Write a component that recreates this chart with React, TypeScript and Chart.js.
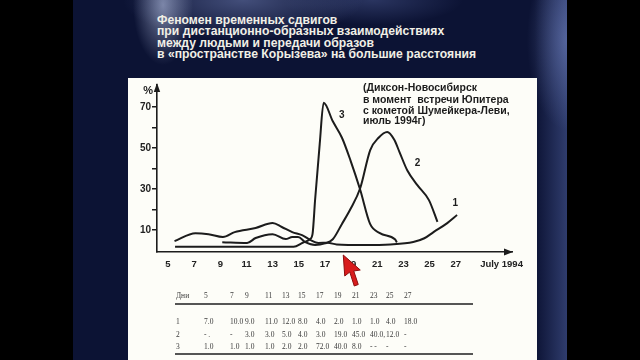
import React, { useEffect, useRef } from "react";
import { Chart, registerables } from "chart.js";

Chart.register(...registerables);

// ---------- texts ----------
const titleLines = [
  "Феномен временных сдвигов",
  "при дистанционно-образных взаимодействиях",
  "между людьми и передачи образов",
  "в «пространстве Корызева» на большие расстояния",
];
const noteLines = [
  "(Диксон-Новосибирск",
  "в момент  встречи Юпитера",
  "с кометой Шумейкера-Леви,",
  "июль 1994г)",
];
const yAxisUnit = "%";
const xAxisTitle = "July 1994";

// ---------- axes ----------
const xTickDays = [5, 7, 9, 11, 13, 15, 17, 19, 21, 23, 25, 27];
const xTitleDay = 30.5;
const yTickValues = [10, 20, 30, 40, 50, 60, 70];
const yLabelledTicks = [10, 30, 50, 70];

// ---------- curves ----------
const series1Days = [5.5, 7.1, 8.1, 9.2, 10.1, 11.7, 13.0, 13.7, 14.5, 15.25, 15.9, 16.5, 17.2, 17.9, 20.0, 22.0, 23.75, 24.6, 25.3, 26.35, 27.1];
const series1Values = [4.6, 8.5, 8.0, 6.6, 9.0, 11.0, 13.4, 11.5, 9.0, 7.5, 5.1, 3.7, 3.8, 3.0, 2.7, 3.0, 4.2, 6.0, 9.0, 13.4, 17.3];

const series2Days = [9.15, 11.05, 11.7, 13.0, 14.0, 14.5, 14.95, 15.5, 16.25, 17.0, 17.6, 18.3, 18.93, 19.7, 20.46, 21.1, 21.76, 22.3, 22.7, 23.3, 24.05, 24.95, 25.6];
const series2Values = [4.1, 3.7, 6.1, 8.0, 5.6, 6.6, 6.6, 4.1, 2.7, 3.5, 5.5, 13.0, 20.0, 30.5, 49.0, 55.0, 57.8, 54.0, 48.0, 39.0, 32.0, 24.6, 14.0];

const series3Days = [5.54, 14.6, 15.3, 15.85, 16.05, 16.25, 16.6, 16.9, 17.6, 18.3, 18.95, 19.7, 20.45, 21.2, 22.35, 22.5];
const series3Values = [1.8, 1.8, 3.8, 5.5, 8.0, 25.0, 52.0, 72.0, 63.0, 55.0, 44.0, 29.5, 13.0, 8.5, 5.5, 4.0];

const curveNames = ["1", "2", "3"];
const curveLabelDays = [26.96, 24.08, 18.29];
const curveLabelValues = [23.0, 42.5, 66.0];

// ---------- table ----------
const tableHeader = "Дни";
const tableDays = ["5", "7", "9", "11", "13", "15", "17", "19", "21", "23", "25", "27"];
const tableRowNames = ["1", "2", "3"];
const tableRow1 = ["7.0", "10.0", "9.0", "11.0", "12.0", "8.0", "4.0", "2.0", "1.0", "1.0", "4.0", "18.0"];
const tableRow2 = ["- .", "-", "3.0", "3.0", "5.0", "4.0", "3.0", "19.0", "45.0", "40.0,", "12.0", "-"];
const tableRow3 = ["1.0", "1.0", "1.0", "1.0", "2.0", "2.0", "72.0", "40.0", "8.0", "- -", "-", "-"];

// ---------- layout (not data) ----------
const tableColX = [204, 230, 245, 265, 282, 298, 316, 334, 352, 370, 386, 404];
const tableRowY = [322, 335, 347];
const cursorDay = 18.4;

const SANS = '"Liberation Sans", Arial, sans-serif';
const SERIF = '"Liberation Serif", "Times New Roman", serif';
const INK = "#1c1c1c";

const toPoints = (days: number[], values: number[]) =>
  days.map((d, i) => ({ x: d, y: values[i] }));

const extras = {
  id: "extras",
  afterDraw(chart: any) {
    const { ctx, chartArea: a, scales } = chart;
    const x = scales.x;
    const y = scales.y;
    ctx.save();
    ctx.fillStyle = INK;
    // y arrow
    ctx.beginPath();
    ctx.moveTo(a.left, a.top - 2);
    ctx.lineTo(a.left - 3.2, a.top + 7);
    ctx.lineTo(a.left + 3.2, a.top + 7);
    ctx.closePath();
    ctx.fill();
    // x arrow
    ctx.beginPath();
    ctx.moveTo(a.right + 1, a.bottom);
    ctx.lineTo(a.right - 8, a.bottom - 3.5);
    ctx.lineTo(a.right - 8, a.bottom + 3.5);
    ctx.closePath();
    ctx.fill();
    // unit
    ctx.font = `bold 11px ${SANS}`;
    ctx.textAlign = "right";
    ctx.textBaseline = "middle";
    ctx.fillText(yAxisUnit, a.left - 4, a.top + 6);
    // note
    ctx.font = `bold 10.5px ${SANS}`;
    ctx.textAlign = "left";
    ctx.textBaseline = "alphabetic";
    const nb = [6, 18, 29, 39];
    noteLines.forEach((t, i) => ctx.fillText(t, a.left + 206, a.top + nb[i]));
    // curve labels
    ctx.font = `bold 10px ${SANS}`;
    ctx.textAlign = "center";
    ctx.textBaseline = "middle";
    curveNames.forEach((n, i) =>
      ctx.fillText(n, x.getPixelForValue(curveLabelDays[i]), y.getPixelForValue(curveLabelValues[i]))
    );
    // red cursor
    const cx = x.getPixelForValue(cursorDay);
    const cy = a.bottom + 3;
    const poly = [[0, 0], [1.5, 21], [6.5, 17], [11, 31], [15, 29.5], [10.5, 16], [17, 15]];
    ctx.beginPath();
    poly.forEach(([px, py], i) => (i ? ctx.lineTo(cx + px, cy + py) : ctx.moveTo(cx + px, cy + py)));
    ctx.closePath();
    ctx.fillStyle = "#d81c1c";
    ctx.fill();
    ctx.strokeStyle = "#8c0d0d";
    ctx.lineWidth = 1;
    ctx.stroke();
    ctx.restore();
  },
};

export default function App() {
  const canvasRef = useRef<HTMLCanvasElement>(null);

  useEffect(() => {
    const canvas = canvasRef.current;
    if (!canvas) return;
    const ds = (d: number[], v: number[]) => ({
      data: toPoints(d, v),
      borderColor: INK,
      borderWidth: 2,
      pointRadius: 0,
      fill: false,
      cubicInterpolationMode: "monotone" as const,
    });
    const chart = new Chart(canvas, {
      type: "line",
      data: {
        datasets: [
          ds(series1Days, series1Values),
          ds(series2Days, series2Values),
          ds(series3Days, series3Values),
        ],
      },
      options: {
        animation: false,
        responsive: false,
        layout: { padding: { top: 85, right: 128, bottom: 0, left: 0 } },
        plugins: { legend: { display: false }, tooltip: { enabled: false } },
        scales: {
          x: {
            type: "linear",
            min: 4.16,
            max: 31.3,
            afterFit: (s: any) => {
              s.height = 108;
            },
            afterBuildTicks: (s: any) => {
              s.ticks = [...xTickDays, xTitleDay].map((v) => ({ value: v }));
            },
            grid: { display: false, drawTicks: false },
            border: { display: true, color: INK, width: 1.6 },
            ticks: {
              autoSkip: false,
              maxRotation: 0,
              padding: 7,
              color: "#222",
              font: { family: SANS, size: 9.5, weight: "bold" },
              callback: (v: any) => (v === xTitleDay ? xAxisTitle : String(v)),
            },
          },
          y: {
            type: "linear",
            min: -0.7,
            max: 80.7,
            afterFit: (s: any) => {
              s.width = 157;
            },
            afterBuildTicks: (s: any) => {
              s.ticks = yTickValues.map((v) => ({ value: v }));
            },
            grid: {
              display: true,
              drawOnChartArea: false,
              drawTicks: true,
              tickLength: 5,
              color: INK,
              lineWidth: 1.5,
            },
            border: { display: true, color: INK, width: 1.6 },
            ticks: {
              autoSkip: false,
              padding: 1,
              color: "#222",
              font: { family: SANS, size: 10, weight: "bold" },
              callback: (v: any) => (yLabelledTicks.includes(v) ? String(v) : ""),
            },
          },
        },
      },
      plugins: [extras],
    });
    return () => chart.destroy();
  }, []);

  const abs = (o: React.CSSProperties): React.CSSProperties => ({ position: "absolute", ...o });
  const cell = (text: string, left: number, cy: number, key: string) => (
    <div
      key={key}
      style={abs({ left, top: cy - 5, height: 10, lineHeight: "10px", fontSize: 7.5, fontFamily: SERIF, color: "#3a3a3a", whiteSpace: "pre" })}
    >
      {text}
    </div>
  );
  const rows = [tableRow1, tableRow2, tableRow3];

  return (
    <div style={{ position: "fixed", left: 0, top: 0, width: 640, height: 360, background: "#000", overflow: "hidden" }}>
      <div
        style={abs({
          left: 73,
          top: 0,
          width: 494,
          height: 360,
          background:
            "radial-gradient(ellipse 30px 60px at 90px 5px, rgba(200,212,245,0.55), rgba(200,212,245,0) 100%)," +
            "radial-gradient(ellipse 120px 40px at 170px 0px, rgba(150,168,228,0.40), rgba(150,168,228,0) 100%)," +
            "radial-gradient(ellipse 90px 25px at 300px 0px, rgba(120,140,210,0.28), rgba(120,140,210,0) 100%)," +
            "radial-gradient(ellipse 40px 90px at 494px 40px, rgba(130,150,215,0.45), rgba(130,150,215,0) 100%)," +
            "linear-gradient(to left, rgba(100,122,195,0.40) 0px, rgba(100,122,195,0.12) 22px, rgba(0,0,0,0) 32px)," +
            "#0c1334",
        })}
      />
      <div style={abs({ left: 128, top: 78, width: 409, height: 282, background: "#fdfdf8" })} />
      <div
        style={abs({
          left: 157,
          top: 15,
          fontFamily: SANS,
          fontWeight: "bold",
          fontSize: 12.2,
          lineHeight: "11.4px",
          color: "#f1efe6",
          whiteSpace: "pre",
        })}
      >
        {titleLines.join("\n")}
      </div>
      <canvas ref={canvasRef} width={640} height={360} style={abs({ left: 0, top: 0, width: 640, height: 360 })} />
      {cell(tableHeader, 176, 296, "h")}
      {tableDays.map((d, i) => cell(d, tableColX[i], 296, "d" + i))}
      <div style={abs({ left: 175, top: 303, width: 298, height: 2, background: "#555" })} />
      {rows.map((r, ri) => (
        <React.Fragment key={"r" + ri}>
          {cell(tableRowNames[ri], 176, tableRowY[ri], "n" + ri)}
          {r.map((v, i) => cell(v, tableColX[i], tableRowY[ri], "c" + ri + "_" + i))}
        </React.Fragment>
      ))}
      <div style={abs({ left: 175, top: 353, width: 298, height: 2, background: "#555" })} />
    </div>
  );
}
